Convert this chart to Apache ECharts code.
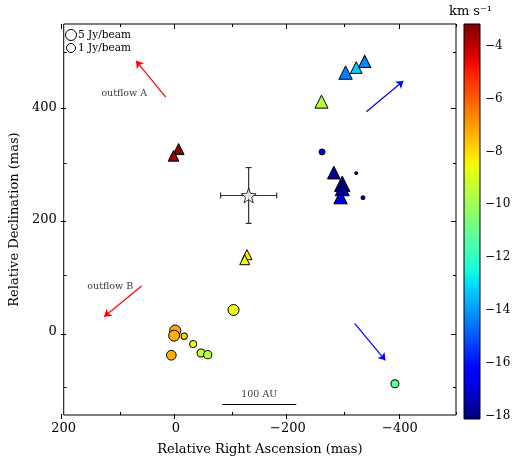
<!DOCTYPE html>
<html lang="en">
<head>
<meta charset="utf-8">
<title>maser spots</title>
<script src="https://cdn.jsdelivr.net/npm/echarts@6/dist/echarts.min.js"></script>
<style>
    html, body { margin: 0; padding: 0; background: #fff; }
    #main { width: 531px; height: 461px; }
</style>
</head>
<body>
<div id="main"></div>
<script>
    // triangle spots: RA offset, Dec offset (mas), velocity (km/s), flux (Jy/beam)
    const triX = [-5, 4, -127, -123, -260, -303, -322, -337, -282, -297, -297, -294];
    const triY = [326, 314, 137, 128, 411, 463, 472, 483, 284, 264, 255, 240];
    const triV = [-3.3, -3.6, -8.3, -8.5, -9.6, -14.4, -13.3, -14.3, -17.9, -17.9, -17.7, -17.0];
    const triFlux = [5, 4, 2.2, 2.2, 25, 33, 9, 14, 20, 160, 56, 33];

    // circle spots
    const cirX = [-261, -322, -334, -103, 1, 3, -15, -31, -45, -57, 8, -391];
    const cirY = [321, 283, 239, 38, 1, -8, -9, -23, -39, -42, -43, -94];
    const cirV = [-17.0, -16.8, -16.8, -8.6, -7.2, -7.3, -8.0, -8.6, -9.4, -9.5, -7.3, -11.2];
    const cirFlux = [0.09, 0.008, 0.018, 5, 6, 5, 0.11, 0.25, 0.45, 0.55, 1.8, 0.45];

    // star with error bars: x, y, xerr, yerr
    const star = [-130, 243, 50, 50];

    // outflow arrows [start, end]
    const redArrows = [[[18, 419], [71, 484]], [[61, 81], [128, 26]]];
    const blueArrows = [[[-340, 393], [-406, 448]], [[-319, 14], [-374, -52]]];
    const scaleBar = [[-83, -130], [-215, -130]];

    const notes = [
        {name: 'outflow A', value: [92, 425]},
        {name: 'outflow B', value: [117, 80]},
        {name: '100 AU', value: [-149, -113]}
    ];

    const xMajor = [200, 0, -200, -400];
    const xMinor = [100, -100, -300, -500];
    const yMajor = [0, 200, 400];
    const yMinor = [-100, 100, 300, 500];
    const cbTicks = [-18, -16, -14, -12, -10, -8, -6, -4];
    const legendFlux = [5, 1];

    const vmin = -18.12, vmax = -3.18;
    const FONT = 'DejaVu Serif';

    function symSize(f) {
        return Math.max(3, 9 + 2.86 * Math.log10(f));
    }

    // matplotlib jet
    function seg(pts, t) {
        for (let i = 1; i < pts.length; i++) {
            if (t <= pts[i][0]) {
                const a = pts[i - 1], b = pts[i];
                return a[1] + (b[1] - a[1]) * (t - a[0]) / (b[0] - a[0]);
            }
        }
        return pts[pts.length - 1][1];
    }
    function jet(t) {
        const r = seg([[0, 0], [0.35, 0], [0.66, 1], [0.89, 1], [1, 0.5]], t);
        const g = seg([[0, 0], [0.125, 0], [0.375, 1], [0.64, 1], [0.91, 0], [1, 0]], t);
        const b = seg([[0, 0.5], [0.11, 1], [0.34, 1], [0.65, 0], [1, 0]], t);
        return 'rgb(' + Math.round(r * 255) + ',' + Math.round(g * 255) + ',' + Math.round(b * 255) + ')';
    }
    const jetColors = [];
    const gradStops = [];
    for (let i = 0; i <= 60; i++) {
        jetColors.push(jet(i / 60));
        gradStops.push({offset: 1 - i / 60, color: jet(i / 60)});
    }

    const minus = v => (v < 0 ? '\u2212' + (-v) : String(v));
    const txt = {color: '#000', fontFamily: FONT, fontSize: 13};
    const noLine = {show: false, onZero: false};

    function xAx(grid, pos, ticks, len, labels, extra) {
        return Object.assign({
            type: 'value', gridIndex: grid, position: pos, min: -500, max: 200, inverse: true,
            axisLine: noLine, splitLine: {show: false},
            axisTick: {show: true, inside: true, length: len, customValues: ticks, lineStyle: {color: '#000'}},
            axisLabel: labels ? Object.assign({customValues: xMajor, formatter: minus, margin: 7}, txt) : {show: false}
        }, extra || {});
    }
    function yAx(grid, pos, ticks, len, labels, extra) {
        return Object.assign({
            type: 'value', gridIndex: grid, position: pos, min: -150, max: 550,
            axisLine: noLine, splitLine: {show: false},
            axisTick: {show: true, inside: true, length: len, customValues: ticks, lineStyle: {color: '#000'}},
            axisLabel: labels ? Object.assign({customValues: yMajor, formatter: minus, margin: 7}, txt) : {show: false}
        }, extra || {});
    }

    const chart = echarts.init(document.getElementById('main'), null, {renderer: 'canvas'});

    const option = {
        backgroundColor: '#fff',
        animation: false,
        grid: [
            {left: 61, right: 75, top: 24, bottom: 42, show: true, borderColor: '#000', borderWidth: 1, backgroundColor: 'transparent'},
            {left: 464, right: 51, top: 24, bottom: 42, show: true, borderColor: '#000', borderWidth: 1, backgroundColor: 'transparent', z: 5},
            {left: 61, right: 75, top: 24, bottom: 42}
        ],
        xAxis: [
            xAx(0, 'bottom', xMinor, 3, true, {
                name: 'Relative Right Ascension (mas)', nameLocation: 'middle', nameGap: 28,
                nameTextStyle: txt
            }),
            xAx(0, 'top', xMinor, 3, false),
            {type: 'value', gridIndex: 1, show: false, min: 0, max: 1},
            xAx(2, 'bottom', xMajor, 5, false),
            xAx(2, 'top', xMajor, 5, false)
        ],
        yAxis: [
            yAx(0, 'left', yMinor, 3, true, {
                name: 'Relative Declination (mas)', nameLocation: 'middle', nameGap: 42,
                nameTextStyle: txt
            }),
            yAx(0, 'right', yMinor, 3, false),
            {
                type: 'value', gridIndex: 1, position: 'right', min: vmin, max: vmax,
                axisLine: noLine, splitLine: {show: false},
                axisTick: {show: true, inside: true, length: 4, customValues: cbTicks, lineStyle: {color: '#000'}},
                axisLabel: Object.assign({customValues: cbTicks, formatter: minus, margin: 5}, txt, {fontSize: 12})
            },
            yAx(2, 'left', yMajor, 5, false),
            yAx(2, 'right', yMajor, 5, false)
        ],
        visualMap: {
            type: 'continuous', show: false, min: vmin, max: vmax, dimension: 2,
            seriesIndex: [0, 1], inRange: {color: jetColors}
        },
        graphic: [
            {
                type: 'rect', left: 464, top: 24, z: 1,
                shape: {width: 16, height: 395},
                style: {fill: new echarts.graphic.LinearGradient(0, 0, 0, 1, gradStops)}
            },
            {
                type: 'text', left: 449, top: 5, z: 10,
                style: {text: 'km s\u207B\u00B9', fill: '#000', font: '13px "DejaVu Serif"'}
            },
            ...legendFlux.map((f, i) => ({
                type: 'circle', z: 10,
                shape: {cx: 71, cy: 35 + i * 13, r: symSize(f) / 2},
                style: {fill: '#fff', stroke: '#000', lineWidth: 1}
            })),
            ...legendFlux.map((f, i) => ({
                type: 'text', z: 10, x: 78, y: 35 + i * 13,
                style: {text: f + ' Jy/beam', fill: '#000', font: '10.5px "DejaVu Serif"', verticalAlign: 'middle'}
            }))
        ],
        series: [
            {
                type: 'scatter', name: 'triangles', xAxisIndex: 0, yAxisIndex: 0, z: 4,
                symbol: 'triangle',
                symbolSize: d => symSize(d[3]),
                itemStyle: {borderColor: '#000', borderWidth: 1, opacity: 1},
                data: triX.map((x, i) => [x, triY[i], triV[i], triFlux[i]])
            },
            {
                type: 'scatter', name: 'circles', xAxisIndex: 0, yAxisIndex: 0, z: 3,
                symbol: 'circle',
                symbolSize: d => symSize(d[3]),
                itemStyle: {borderColor: '#000', borderWidth: 1, opacity: 1},
                data: cirX.map((x, i) => [x, cirY[i], cirV[i], cirFlux[i]])
            },
            {
                type: 'custom', xAxisIndex: 0, yAxisIndex: 0, z: 2,
                data: [star],
                encode: {x: 0, y: 1},
                renderItem: function (params, api) {
                    const x = api.value(0), y = api.value(1), ex = api.value(2), ey = api.value(3);
                    const l = api.coord([x - ex, y]), r = api.coord([x + ex, y]);
                    const t = api.coord([x, y + ey]), b = api.coord([x, y - ey]);
                    const c = 3;
                    const st = {stroke: '#333', lineWidth: 1.2};
                    const seg2 = (x1, y1, x2, y2) => ({type: 'line', shape: {x1, y1, x2, y2}, style: st});
                    return {
                        type: 'group', children: [
                            seg2(l[0], l[1], r[0], r[1]),
                            seg2(t[0], t[1], b[0], b[1]),
                            seg2(l[0], l[1] - c, l[0], l[1] + c),
                            seg2(r[0], r[1] - c, r[0], r[1] + c),
                            seg2(t[0] - c, t[1], t[0] + c, t[1]),
                            seg2(b[0] - c, b[1], b[0] + c, b[1])
                        ]
                    };
                }
            },
            {
                type: 'scatter', xAxisIndex: 0, yAxisIndex: 0, z: 6,
                symbol: 'path://M0,-10 L2.35,-3.24 L9.51,-3.09 L3.8,1.24 L5.88,8.09 L0,4 L-5.88,8.09 L-3.8,1.24 L-9.51,-3.09 L-2.35,-3.24 Z',
                symbolSize: 15,
                itemStyle: {color: '#fff', borderColor: '#000', borderWidth: 1},
                data: [[star[0], star[1]]]
            },
            {
                type: 'lines', coordinateSystem: 'cartesian2d', xAxisIndex: 0, yAxisIndex: 0, z: 3,
                symbol: ['none', 'arrow'], symbolSize: 7,
                lineStyle: {color: '#ff0000', width: 1.2, opacity: 1},
                data: redArrows.map(c => ({coords: c}))
            },
            {
                type: 'lines', coordinateSystem: 'cartesian2d', xAxisIndex: 0, yAxisIndex: 0, z: 3,
                symbol: ['none', 'arrow'], symbolSize: 7,
                lineStyle: {color: '#0000ff', width: 1.2, opacity: 1},
                data: blueArrows.map(c => ({coords: c}))
            },
            {
                type: 'lines', coordinateSystem: 'cartesian2d', xAxisIndex: 0, yAxisIndex: 0, z: 3,
                symbol: 'none',
                lineStyle: {color: '#000', width: 1, opacity: 1},
                data: [{coords: scaleBar}]
            },
            {
                type: 'scatter', xAxisIndex: 0, yAxisIndex: 0, z: 5,
                symbolSize: 0, itemStyle: {color: 'transparent'},
                label: {
                    show: true, position: 'inside', formatter: p => p.name,
                    color: '#000', fontFamily: FONT, fontSize: 9.5
                },
                data: notes
            },
            {
                type: 'scatter', xAxisIndex: 2, yAxisIndex: 2, data: []
            }
        ]
    };

    chart.setOption(option);
</script>
</body>
</html>
